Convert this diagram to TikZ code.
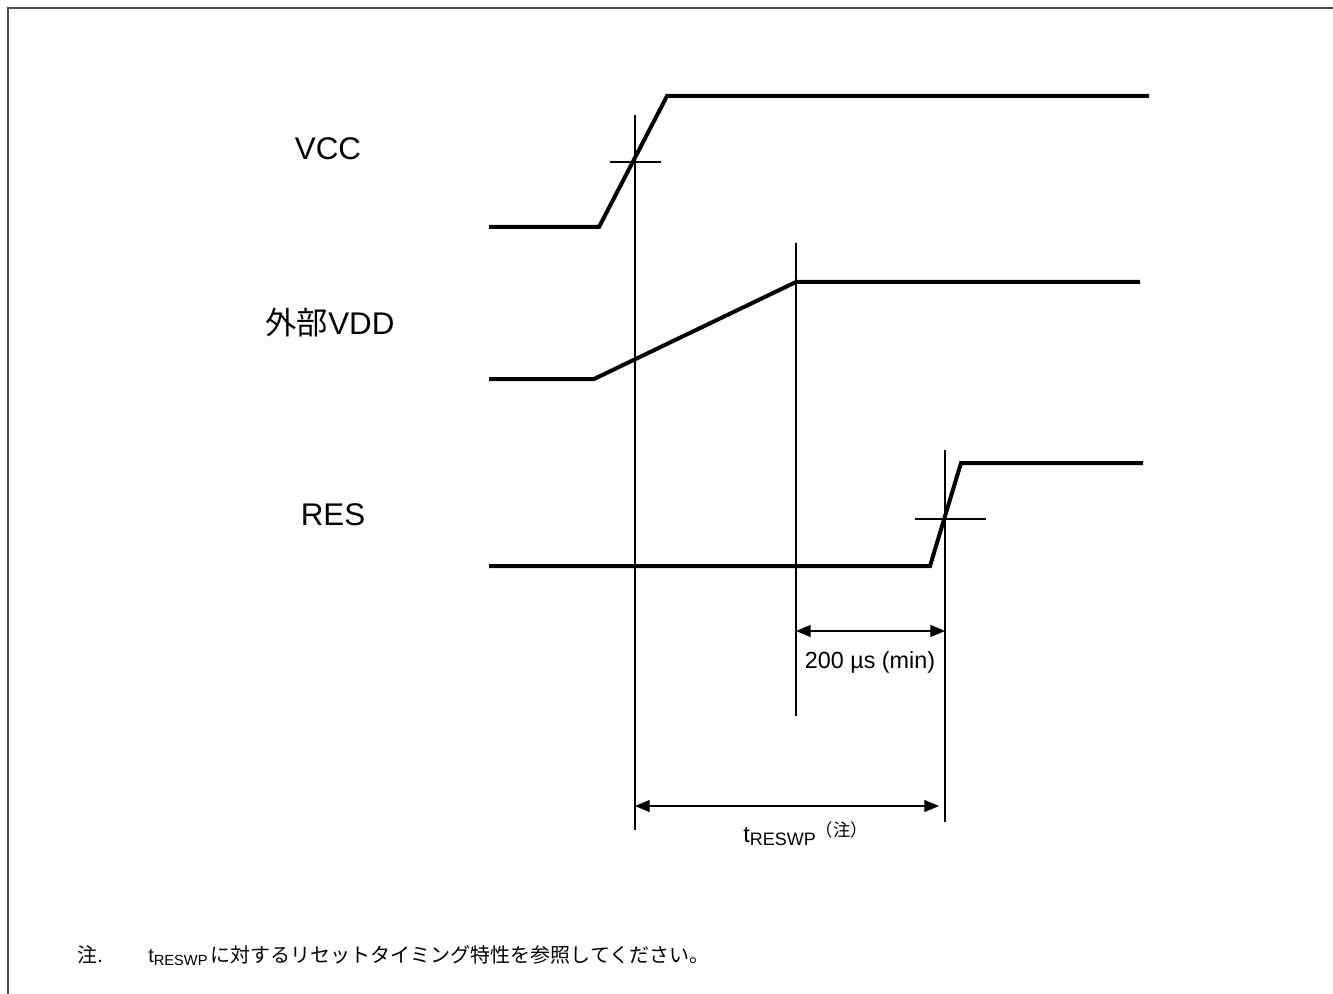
\documentclass[tikz,border=0pt]{standalone}
\usepackage{fontspec}
\setmainfont{Liberation Sans}
\newfontfamily\jpfont{Noto Sans CJK JP}
\usetikzlibrary{arrows.meta}

\tikzset{
  frameline/.style={draw=black!70, line width=1.8pt},
  wave/.style={line width=3pt, line join=miter},
  guide/.style={line width=0.8pt},
  dimline/.style={line width=0.8pt, {Triangle[length=11pt,width=9pt]}-{Triangle[length=11pt,width=9pt]}},
  signame/.style={font=\fontsize{23.5}{28}\selectfont, inner sep=0pt},
  dimlabel/.style={font=\fontsize{17.5}{21}\selectfont, inner sep=0pt},
  notetext/.style={font=\fontsize{15}{18}\selectfont, inner sep=0pt, anchor=base west},
}

\begin{document}
\begin{tikzpicture}[x=0.75pt, y=-0.75pt]
  \useasboundingbox (0,0) rectangle (1333,994);
  \draw[frameline] (1333,8) -- (8,8) -- (8,994);

  % signal names
  \node[signame] (vcc) at (328,149) {VCC};
  \node[signame] (vdd) at (330,323) {{\jpfont 外部}VDD};
  \node[signame] (res) at (333,515) {RES};

  % waveforms
  \draw[wave] (489,227) -- (599,227) -- (667,96) -- (1149,96);
  \draw[wave] (489,379) -- (594,379) -- (796,282) -- (1140,282);
  \draw[wave] (489,566) -- (930,566) -- (961,463) -- (1143,463);

  % reference lines
  \coordinate (vcctop) at (635,115);
  \coordinate (vccbot) at (635,830);
  \coordinate (vddtop) at (796,243);
  \coordinate (vddbot) at (796,716);
  \coordinate (restop) at (945,450);
  \coordinate (resbot) at (945,822);
  \draw[guide] (vcctop) -- (vccbot);
  \draw[guide] (610,162) -- (661,162);
  \draw[guide] (vddtop) -- (vddbot);
  \draw[guide] (restop) -- (resbot);
  \draw[guide] (915,519) -- (986,519);

  % 200 us
  \coordinate (minL) at (796,631);
  \coordinate (minR) at (945,631);
  \draw[dimline] (minL) -- (minR);
  \node[dimlabel] (minlbl) at (870,662) {200 µs (min)};

  % tRESWP
  \coordinate (twL) at (635,806);
  \coordinate (twR) at (939,806);
  \draw[dimline] (twL) -- (twR);
  \node[dimlabel, anchor=base west] (twlbl) at (743,842)
    {t\raisebox{-0.3ex}{\fontsize{13.5}{15}\selectfont RESWP}\raisebox{0.45ex}{\fontsize{13}{15}\selectfont\jpfont （注）}};

  % note
  \node[notetext] (notemark) at (77,962) {{\jpfont 注}.};
  \node[notetext] (notebody) at (148,962)
    {t\raisebox{-0.3ex}{\fontsize{11}{12}\selectfont RESWP}\,{\jpfont に対するリセットタイミング特性を参照してください。}};
\end{tikzpicture}
\end{document}
